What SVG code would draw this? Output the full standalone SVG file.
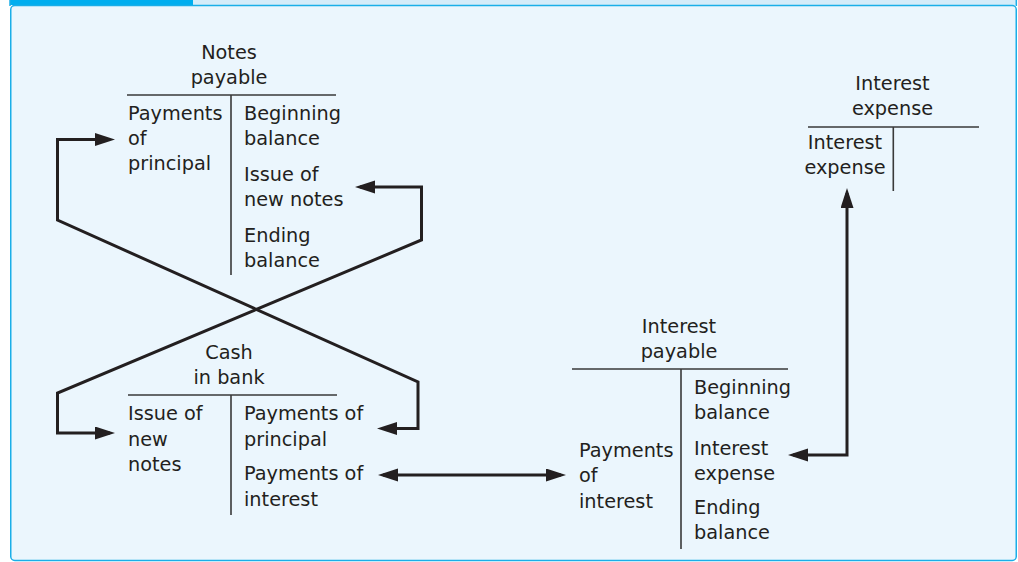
<svg xmlns="http://www.w3.org/2000/svg" width="1018" height="562" viewBox="0 0 1018 562">
<style>
text{font-family:"DejaVu Sans","Open Sans",sans-serif;font-size:19.3px;fill:#231f20}
.c{text-anchor:middle}
.t{stroke:#3a3a3a;stroke-width:1.6;fill:none}
.k{stroke:#231f20;stroke-width:3;fill:none;marker-start:url(#ah);marker-end:url(#ah)}
</style>
<defs>
<marker id="ah" markerUnits="userSpaceOnUse" markerWidth="22" markerHeight="14" refX="15" refY="6.5" orient="auto-start-reverse" viewBox="0 0 22 14">
<path d="M0,0 L20,6.5 L0,13 Z" fill="#231f20"/>
</marker>
</defs>
<rect x="10" y="0" width="1007" height="5" fill="#d5ecf9"/>
<rect x="10" y="0" width="183" height="5" fill="#00aeef"/>
<rect x="10.75" y="5.5" width="1005.5" height="555" rx="4" fill="#ebf6fd" stroke="#1aaee8" stroke-width="1.5"/>
<line x1="10" y1="0" x2="10" y2="6" stroke="#1aaee8" stroke-width="1.5"/>
<line x1="1016.3" y1="0" x2="1016.3" y2="6" stroke="#1aaee8" stroke-width="1.5"/>

<g id="connectors">
<path class="k" d="M110,139.5 H57.5 V220 L418,382 V428.5 H382"/>
<path class="k" d="M360,187 H421.5 V240 L57.5,393 V433 H110"/>
<path class="k" d="M383,475 H561"/>
<path class="k" d="M793,455 H847 V193"/>
</g>

<g id="notes-payable">
<text class="c" x="229" y="59">Notes<tspan x="229" dy="24.5">payable</tspan></text>
<path class="t" d="M127,95 H336 M231,95 V275"/>
<text x="128" y="120">Payments<tspan x="128" dy="25">of</tspan><tspan x="128" dy="25">principal</tspan></text>
<text x="244" y="120">Beginning<tspan x="244" dy="25">balance</tspan></text>
<text x="244" y="181">Issue of<tspan x="244" dy="25">new notes</tspan></text>
<text x="244" y="241.5">Ending<tspan x="244" dy="25">balance</tspan></text>
</g>

<g id="cash-in-bank">
<text class="c" x="229" y="359">Cash<tspan x="229" dy="24.5">in bank</tspan></text>
<path class="t" d="M128,395 H337 M231,395 V515"/>
<text x="128" y="420">Issue of<tspan x="128" dy="25.5">new</tspan><tspan x="128" dy="25.5">notes</tspan></text>
<text x="244" y="420">Payments of<tspan x="244" dy="25.5">principal</tspan></text>
<text x="244" y="480">Payments of<tspan x="244" dy="26">interest</tspan></text>
</g>

<g id="interest-payable">
<text class="c" x="679" y="332.5">Interest<tspan x="679" dy="25">payable</tspan></text>
<path class="t" d="M572,369 H788 M681,369 V549"/>
<text x="579" y="456.5">Payments<tspan x="579" dy="25">of</tspan><tspan x="579" dy="26">interest</tspan></text>
<text x="694" y="393.5">Beginning<tspan x="694" dy="25.5">balance</tspan></text>
<text x="694" y="455">Interest<tspan x="694" dy="24.5">expense</tspan></text>
<text x="694" y="513.5">Ending<tspan x="694" dy="25.5">balance</tspan></text>
</g>

<g id="interest-expense">
<text class="c" x="892.5" y="89.5">Interest<tspan x="892.5" dy="25">expense</tspan></text>
<path class="t" d="M808,127 H979 M893.3,127 V191"/>
<text class="c" x="845" y="148.5">Interest<tspan x="845" dy="25">expense</tspan></text>
</g>
</svg>
